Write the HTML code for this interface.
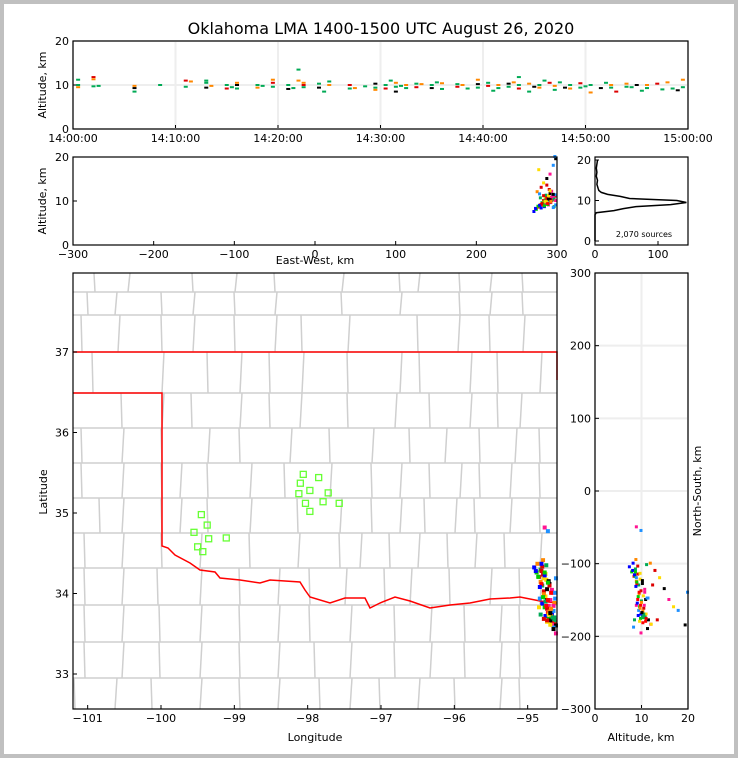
<!DOCTYPE html>
<html><head><meta charset="utf-8">
<style>
html,body{margin:0;padding:0;background:#fff}
svg{display:block;font-family:"DejaVu Sans","Liberation Sans",sans-serif}
</style></head>
<body>
<svg id="chart" width="738" height="758" viewBox="0 0 738 758" xmlns="http://www.w3.org/2000/svg">
<rect x="2" y="2" width="734" height="754" fill="#fff" stroke="#c0c0c0" stroke-width="4"/>
<text x="381" y="34" font-size="16" text-anchor="middle">Oklahoma LMA 1400-1500 UTC August 26, 2020</text>
<g id="g1"></g>
<g id="g2"></g>
<g id="g3"></g>
<g id="g4"></g>
<g id="g5"></g>
</svg>
<script>
// ---- data ----
const timeMin=[0.5,0.5,0.5,2,2,2,2.5,6,6,6,8.5,11,11,11.5,13,13,13,13.5,15,15,15.5,16,16,16,18,18,18.5,19.5,19.5,19.5,21,21,21.5,22,22,22.5,22.5,22.5,24,24,24.5,25,25,27,27,27.5,28.5,29.5,29.5,29.5,30.5,30.5,31,31.5,31.5,31.5,32,32.5,32.5,33.5,33.5,34,35,35,35.5,36,36,37.5,37.5,38,38.5,39.5,39.5,39.5,40.5,40.5,41,41.5,41.5,42.5,42.5,43,43.5,43.5,43.5,44.5,44.5,45,45.5,45.5,46,46.5,47,47,47.5,48,48.5,48.5,49.5,49.5,50,50.5,50.5,51.5,52,52.5,52.5,53,54,54,54.5,55,55.5,56,56,57,57.5,58,58.5,59,59.5,59.5];
const timeAlt=[10,9.5,11.2,11.8,9.7,11.3,9.8,9.3,8.5,9.8,10,11,9.6,10.8,10.5,9.4,11,9.8,10,9.2,9.5,10.5,9.2,10,10,9.4,9.8,10.5,9.6,11.2,10,9.1,9.3,11,13.5,10,9.5,10.5,10.3,9.4,8.5,10,10.8,10,9.2,9.3,9.7,10.3,9.4,8.9,10,9.2,11,10.5,9.6,8.5,9.8,10,9.3,9.5,10.3,10.2,10,9.3,10.6,10.4,9.1,9.6,10.2,10,9.2,10.2,9.4,11.2,10.5,9.8,8.7,10,9.3,10.3,9.6,10.6,10,9.2,11.8,10.3,8.5,9.6,10,9.4,11,10.5,8.9,9.8,10.6,9.4,10,9.2,9.4,10.4,9.7,8.3,10,9.3,10.5,10,9.4,8.5,9.6,10.3,9.5,10,8.7,10,9.3,10.3,9,10.6,9.2,8.8,9.5,11.2];
// storm sources: east-west km, north-south km, altitude km
const srcEW=[272,275,278,280,282,284,286,288,290,292,294,296,298,276,280,283,287,291,295,279,282,285,289,293,297,281,284,288,292,296,286,290,294,283,287,291,278,299,285,289,274,277,281,284,286,288,290,292,294,296,279,283,287,291,295,282,286,290,294,298,285,289,293,297,280,284,288,292,296,299,281,285,289,293,297,288,292,296,299,298];
const srcNS=[-105,-112,-118,-125,-130,-138,-145,-150,-158,-165,-170,-175,-180,-100,-108,-115,-122,-128,-140,-148,-155,-160,-168,-172,-178,-110,-120,-135,-150,-165,-172,-176,-182,-95,-102,-130,-160,-185,-50,-55,-110,-118,-128,-142,-152,-162,-170,-178,-184,-188,-132,-146,-158,-166,-174,-104,-114,-124,-136,-148,-116,-126,-140,-154,-170,-176,-180,-168,-158,-120,-100,-112,-150,-162,-174,-178,-184,-190,-196,-140];
const srcAlt=[7.5,8,8.5,9,9.5,10,10.5,11,9,9.5,10,10.5,11,12,8.8,9.3,9.8,10.3,10.8,11.5,9.2,9.7,10.2,10.7,8.6,13,14,15,16,18,9.4,9.9,10.4,8.9,11.2,12.5,17,19.5,9,10,8.2,8.7,9.1,9.6,10.1,10.6,11.1,11.6,12.1,8.4,8.9,9.4,9.9,10.4,10.9,9.3,9.8,10.3,10.8,11.3,8.6,9.1,9.6,10.1,10.6,11.1,9.7,10.2,10.7,9,8.3,8.8,9.3,9.8,10.3,13.5,12.2,11.4,10,20];
const colors=["#0000ff","#00cc00","#ff0000","#ff8800","#00aa55","#dd0000","#ffdd00","#000000","#ff1493","#1e90ff"];
const histAlt=[0,1,2,3,4,5,6,6.5,7,7.5,8,8.5,9,9.5,10,10.5,11,11.5,12,12.5,13,14,15,16,17,18,19,20];
const histCount=[0,0,0,0,0,0,0,0,2,30,45,65,120,145,130,55,40,20,10,6,5,3,4,2,3,2,3,4];
const stationLon=[-98.06,-97.85,-98.1,-97.97,-98.12,-97.72,-97.79,-97.57,-98.03,-97.97,-99.45,-99.37,-99.55,-99.35,-99.11,-99.5,-99.43];
const stationLat=[35.48,35.44,35.37,35.28,35.24,35.25,35.14,35.12,35.12,35.02,34.98,34.85,34.76,34.68,34.69,34.58,34.52];
const timeTicks=["14:00:00","14:10:00","14:20:00","14:30:00","14:40:00","14:50:00","15:00:00"];
const ewTicks=[-300,-200,-100,0,100,200,300];
const lonTicks=[-101,-100,-99,-98,-97,-96,-95];
const latTicks=[33,34,35,36,37];
const nsTicks=[-300,-200,-100,0,100,200,300];
const altTicks=[0,10,20];
const histTicks=[0,100];
const altTicks2=[0,10,20];

const NS="http://www.w3.org/2000/svg";
function mk(tag,attrs,parent,txt){const e=document.createElementNS(NS,tag);for(const k in attrs)e.setAttribute(k,attrs[k]);if(txt!==undefined)e.textContent=txt;parent.appendChild(e);return e;}
function lin(d0,d1,r0,r1){return v=>r0+(v-d0)/(d1-d0)*(r1-r0);}
const cLon=-97.9,cLat=35.27;
const ewToLon=e=>cLon+e/91.0, nsToLat=n=>cLat+n/111.0;

function frame(g,x0,y0,x1,y1,nm){const r=mk('rect',{x:x0,y:y0,width:x1-x0,height:y1-y0,fill:'none',stroke:'#000','stroke-width':1.2},g);}
function xTicks(g,vals,labels,sx,y0,y1,grid,fs){vals.forEach((v,i)=>{const x=sx(v);
 if(grid){const l=mk('line',{x1:x,x2:x,y1:y0,y2:y1,stroke:'#eee','stroke-width':2},g);}
 mk('line',{x1:x,x2:x,y1:y1,y2:y1-4,stroke:'#000'},g);
 const t=mk('text',{x:x,y:y1+13,'font-size':fs||11,'text-anchor':'middle'},g,labels[i]);});}
function yTicks(g,vals,labels,sy,x0,x1,grid,fs){vals.forEach((v,i)=>{const y=sy(v);
 if(grid){const l=mk('line',{x1:x0,x2:x1,y1:y,y2:y,stroke:'#eee','stroke-width':2},g);}
 mk('line',{x1:x0,x2:x0+4,y1:y,y2:y,stroke:'#000'},g);
 const t=mk('text',{x:x0-4,y:y+4,'font-size':fs||11,'text-anchor':'end'},g,labels[i]);});}
function ylabel(g,x,y,s,nm){const t=mk('text',{x:x,y:y,'font-size':11,'text-anchor':'middle',transform:`rotate(-90 ${x} ${y})`},g,s);}
function xlabel(g,x,y,s,nm){const t=mk('text',{x:x,y:y,'font-size':11,'text-anchor':'middle'},g,s);}

// Panel 1: time-height
{const g=document.getElementById('g1');const sx=lin(0,60,73,688),sy=lin(0,20,129,41);
 xTicks(g,[0,10,20,30,40,50,60],timeTicks,sx,41,129,true);
 yTicks(g,altTicks,altTicks.map(String),sy,73,688,true);
 timeMin.forEach((t,i)=>{const r=mk('rect',{x:sx(t)-2,y:sy(timeAlt[i])-1,width:4,height:2,fill:colors[[4,3,4,5,4,3,4,7][i%8]]},g);
  });
 frame(g,73,41,688,129,'time-panel-frame');ylabel(g,46,85,'Altitude, km','time-panel-y-title');}

// Panel 2: EW vs altitude
{const g=document.getElementById('g2');const sx=lin(-300,300,73,557),sy=lin(0,20,245,157);
 xTicks(g,ewTicks,ewTicks.map(v=>String(v).replace('-','\u2212')),sx,157,245,false);
 yTicks(g,altTicks,altTicks.map(String),sy,73,557,false);
 srcEW.forEach((e,i)=>{const r=mk('rect',{x:sx(e)-2,y:sy(srcAlt[i])-2,width:3,height:3,fill:colors[i%colors.length]},g);
  });
 frame(g,73,157,557,245,'ew-panel-frame');ylabel(g,46,201,'Altitude, km','ew-panel-y-title');xlabel(g,315,264,'East-West, km','ew-panel-x-title');}

// Panel 3: histogram
{const g=document.getElementById('g3');const sx=lin(0,100,595,658),sy=lin(0,20,241,160);
 xTicks(g,histTicks,histTicks.map(String),sx,157,245,false);
 yTicks(g,altTicks2,altTicks2.map(String),sy,595,688,false);
 const pts=histAlt.map((a,i)=>sx(histCount[i]).toFixed(1)+','+sy(a).toFixed(1)).join(' ');
 const p=mk('polyline',{points:pts,fill:'none',stroke:'#000','stroke-width':1.5},g);
 const t=mk('text',{x:644,y:237,'font-size':8,'text-anchor':'middle'},g,'2,070 sources');
 frame(g,595,157,688,245,'histogram-frame');}

// Panel 4: map
{const g=document.getElementById('g4');const sx=lin(-101.2,-94.6,73,557),sy=lin(37,33,352,674);
 const rowsY=[273,292,315,352,393,428,463,498,533,568,605,642,678,709];
 const rowsX=[[95,128,193,235,275,342,400,418,460,490,523],[88,115,162,193,235,275,342,400,460,490,523],[82,118,162,193,235,275,302,348,418,458,490,523],[93,162,208,240,270,302,348,400,420,470,498,540],[122,162,192,240,270,300,348,395,430,470,498,520],[82,122,162,208,240,290,330,372,410,445,480,515,540],[82,122,162,180,208,250,285,330,372,400,430,460,480,510,540],[100,122,162,180,208,250,298,340,372,400,425,455,475,510,540],[85,122,162,200,250,298,340,360,390,418,448,475,505,540],[85,122,158,200,240,278,310,345,385,410,450,490,520,540],[85,122,160,200,240,278,310,350,395,430,465,500,520],[85,122,160,200,240,278,315,350,395,430,465,500,520],[75,115,152,200,240,278,320,350,380,418,455,500,520]];
 const cg=mk('g',{stroke:'#cfcfcf','stroke-width':1.5,fill:'none'},g);
 rowsY.slice(1,-1).forEach(y=>mk('line',{x1:73,x2:557,y1:y,y2:y},cg));
 rowsX.forEach((xs,i)=>xs.forEach((x,j)=>mk('line',{x1:x+(j%2?2:-1),x2:x,y1:rowsY[i],y2:rowsY[i+1]},cg)));
 const b=mk('polyline',{points:'73,352 557,352 557,380',fill:'none',stroke:'#ff0000','stroke-width':1.5},g);
 const b2=mk('polyline',{points:'73,393 162,393 162,546 168,548 175,555 190,563 200,570 215,572 220,578 240,580 260,583 270,580 285,581 300,582 305,590 310,597 330,603 345,598 365,598 370,608 380,603 395,597 410,601 430,608 450,605 470,603 490,599 510,598 520,597 540,601 557,603',fill:'none',stroke:'#ff0000','stroke-width':1.5},g);
 stationLon.forEach((lo,i)=>{const r=mk('rect',{x:sx(lo)-3,y:sy(stationLat[i])-3,width:6,height:6,fill:'none',stroke:'#66ff33','stroke-width':1.3},g);
  });
 srcEW.forEach((e,i)=>{const r=mk('rect',{x:sx(ewToLon(e))-2,y:sy(nsToLat(srcNS[i]))-2,width:4,height:4,fill:colors[i%colors.length]},g);
  });
 xTicks(g,lonTicks,lonTicks.map(v=>String(v).replace('-','\u2212')),sx,273,709,false);
 yTicks(g,latTicks,latTicks.map(String),sy,73,557,false);
 frame(g,73,273,557,709,'map-frame');ylabel(g,47,492,'Latitude','map-y-title');xlabel(g,315,741,'Longitude','map-x-title');}

// Panel 5: NS vs altitude
{const g=document.getElementById('g5');const sx=lin(0,20,595,688),sy=lin(-300,300,709,273);
 xTicks(g,altTicks,altTicks.map(String),sx,273,709,true);
 yTicks(g,nsTicks,nsTicks.map(v=>String(v).replace('-','\u2212')),sy,595,688,true);
 srcEW.forEach((e,i)=>{const r=mk('rect',{x:sx(srcAlt[i])-2,y:sy(srcNS[i])-2,width:3,height:3,fill:colors[i%colors.length]},g);
  });
 frame(g,595,273,688,709,'ns-panel-frame');ylabel(g,701,491,'North-South, km','ns-panel-y-title');xlabel(g,641,741,'Altitude, km','ns-panel-x-title');}
</script>
</body></html>
